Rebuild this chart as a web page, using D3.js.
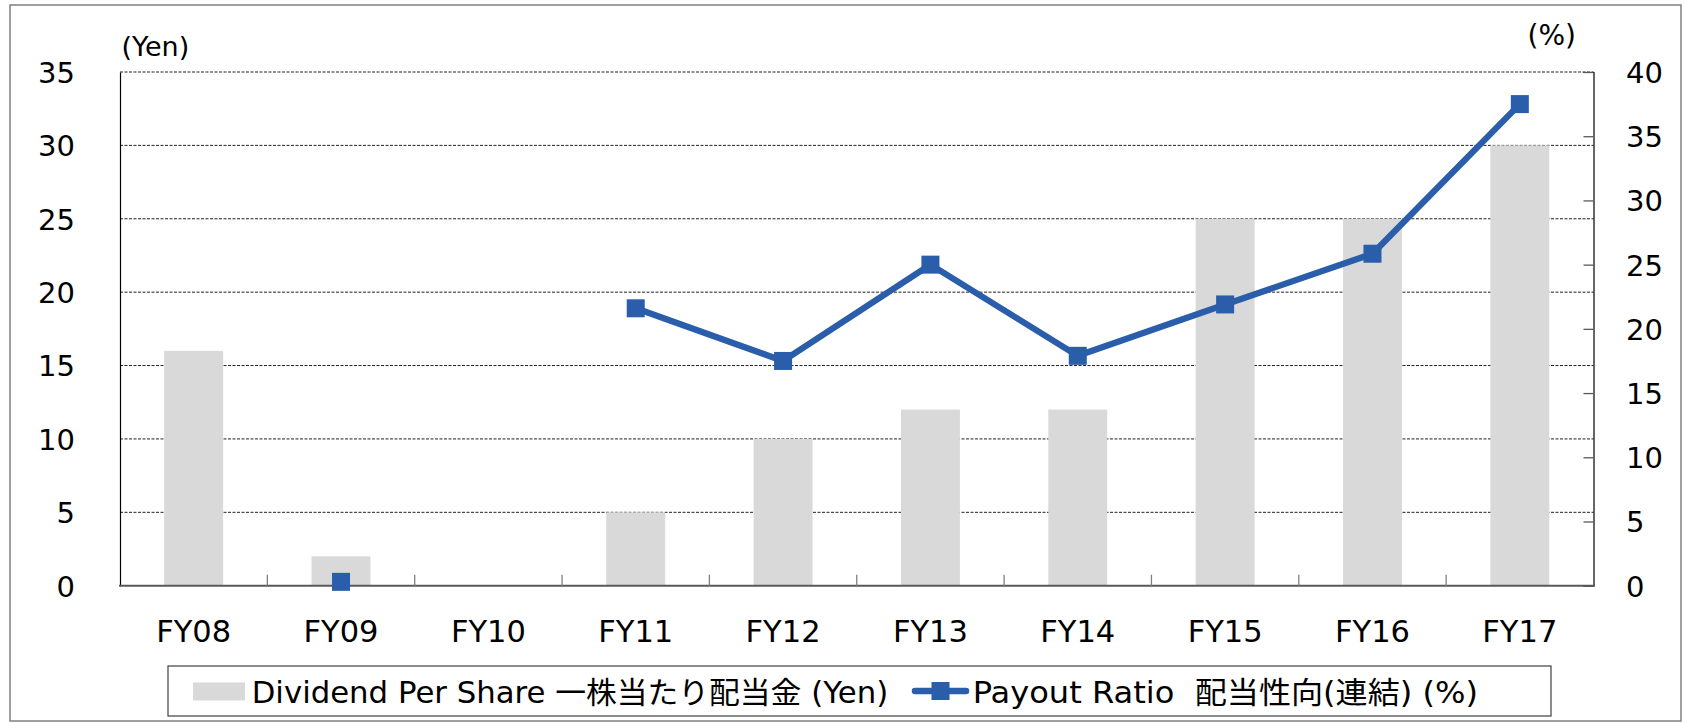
<!DOCTYPE html>
<html>
<head>
<meta charset="utf-8">
<script src="https://cdn.jsdelivr.net/npm/d3@7/dist/d3.min.js"></script>
<style>
    html, body { margin: 0; padding: 0; background: #fff; }
    svg text { font-family: "DejaVu Sans", "Noto Sans CJK JP", sans-serif; fill: #000; }
    .legend-text { white-space: pre; }
</style>
</head>
<body>
<svg id="chart" width="1685" height="723"></svg>
<script>
    "use strict";

    // data
    var categories = ["FY08", "FY09", "FY10", "FY11", "FY12", "FY13", "FY14", "FY15", "FY16", "FY17"];
    var dividend = [16, 2, 0, 5, 10, 12, 12, 25, 25, 30];
    var payout = [null, 0.3, null, 21.6, 17.5, 25.0, 17.9, 21.9, 25.85, 37.5];
    var yenTicks = [0, 5, 10, 15, 20, 25, 30, 35];
    var pctTicks = [0, 5, 10, 15, 20, 25, 30, 35, 40];
    var legendLabels = ["Dividend Per Share 一株当たり配当金 (Yen)", "Payout Ratio  配当性向(連結) (%)"];

    var BAR_COLOR = "#d9d9d9";
    var LINE_COLOR = "#2a5daa";

    var plot = { left: 120, right: 1593.5, top: 72, bottom: 585.7 };

    var svg = d3.select("#chart");

    // outer frame
    svg.append("rect")
        .attr("x", 10).attr("y", 5)
        .attr("width", 1671).attr("height", 716)
        .attr("fill", "#fff")
        .attr("stroke", "#808080")
        .attr("stroke-width", 1.5);

    var x = d3.scaleBand()
        .domain(categories)
        .range([plot.left, plot.right])
        .paddingInner(0.6)
        .paddingOuter(0.3);

    var yL = d3.scaleLinear().domain([0, 35]).range([plot.bottom, plot.top]);
    var yR = d3.scaleLinear().domain([0, 40]).range([plot.bottom, plot.top]);

    var cx = function (c) { return x(c) + x.bandwidth() / 2; };

    // dashed gridlines (left axis)
    svg.append("g").selectAll("line")
        .data(yenTicks.filter(function (t) { return t > 0; }))
        .enter().append("line")
        .attr("x1", plot.left).attr("x2", plot.right)
        .attr("y1", function (d) { return yL(d); })
        .attr("y2", function (d) { return yL(d); })
        .attr("stroke", "#222")
        .attr("stroke-width", 1)
        .attr("stroke-dasharray", "3,1.5");

    // bars
    var barData = categories.map(function (c, i) { return { cat: c, v: dividend[i] }; });
    svg.append("g").selectAll("rect")
        .data(barData.filter(function (d) { return d.v > 0; }))
        .enter().append("rect")
        .attr("x", function (d) { return x(d.cat); })
        .attr("width", x.bandwidth())
        .attr("y", function (d) { return yL(d.v); })
        .attr("height", function (d) { return yL(0) - yL(d.v); })
        .attr("fill", BAR_COLOR);

    // left axis
    var gL = svg.append("g")
        .attr("transform", "translate(" + plot.left + ",0)")
        .call(d3.axisLeft(yL).tickValues(yenTicks).tickSize(0).tickPadding(45));
    gL.select(".domain").attr("stroke", "#000").attr("stroke-width", 1.2);
    gL.selectAll("text").attr("font-size", 29).attr("dy", "0.36em");

    // right axis (ticks pointing inside)
    var gR = svg.append("g")
        .attr("transform", "translate(" + plot.right + ",0)")
        .call(d3.axisRight(yR).tickValues(pctTicks).tickSize(-10).tickPadding(32.5));
    gR.select(".domain").attr("stroke", "#000").attr("stroke-width", 1.2);
    gR.selectAll(".tick line").attr("stroke", "#595959").attr("stroke-width", 1.3);
    gR.selectAll("text").attr("font-size", 29).attr("dy", "0.36em");

    // x axis line and category boundary ticks
    svg.append("line")
        .attr("x1", plot.left - 1).attr("x2", plot.right + 1)
        .attr("y1", plot.bottom).attr("y2", plot.bottom)
        .attr("stroke", "#595959")
        .attr("stroke-width", 2);

    svg.append("g").selectAll("line")
        .data(categories.slice(0, categories.length - 1))
        .enter().append("line")
        .attr("x1", function (c) { return cx(c) + x.step() / 2; })
        .attr("x2", function (c) { return cx(c) + x.step() / 2; })
        .attr("y1", plot.bottom)
        .attr("y2", plot.bottom - 11)
        .attr("stroke", "#808080")
        .attr("stroke-width", 1.3);

    svg.append("g").selectAll("text")
        .data(categories)
        .enter().append("text")
        .attr("x", cx)
        .attr("y", 642.3)
        .attr("text-anchor", "middle")
        .attr("font-size", 30.5)
        .text(function (c) { return c; });

    // unit labels
    svg.append("text").attr("x", 121.5).attr("y", 56).attr("font-size", 27).text("(Yen)");
    svg.append("text").attr("x", 1527.5).attr("y", 45).attr("font-size", 28).text("(%)");

    // payout ratio line
    var lineData = categories.map(function (c, i) { return { cat: c, v: payout[i] }; });
    var line = d3.line()
        .defined(function (d) { return d.v !== null; })
        .x(function (d) { return cx(d.cat); })
        .y(function (d) { return yR(d.v); });

    svg.append("path")
        .datum(lineData)
        .attr("d", line)
        .attr("fill", "none")
        .attr("stroke", LINE_COLOR)
        .attr("stroke-width", 6.3)
        .attr("stroke-linejoin", "round");

    var MARK = 18;
    svg.append("g").selectAll("rect")
        .data(lineData.filter(function (d) { return d.v !== null; }))
        .enter().append("rect")
        .attr("x", function (d) { return cx(d.cat) - MARK / 2; })
        .attr("y", function (d) { return yR(d.v) - MARK / 2; })
        .attr("width", MARK).attr("height", MARK)
        .attr("fill", LINE_COLOR);

    // legend
    var lg = svg.append("g");
    lg.append("rect")
        .attr("x", 168).attr("y", 666)
        .attr("width", 1383).attr("height", 50)
        .attr("fill", "#fff")
        .attr("stroke", "#404040")
        .attr("stroke-width", 1.2);

    lg.append("rect")
        .attr("x", 193).attr("y", 682.5)
        .attr("width", 52).attr("height", 18)
        .attr("fill", BAR_COLOR);

    lg.append("text")
        .attr("class", "legend-text")
        .attr("x", 251.7).attr("y", 702.5)
        .attr("font-size", 30)
        .attr("textLength", 636.6)
        .attr("lengthAdjust", "spacingAndGlyphs")
        .text(legendLabels[0]);

    lg.append("line")
        .attr("x1", 915).attr("x2", 966)
        .attr("y1", 691).attr("y2", 691)
        .attr("stroke", LINE_COLOR)
        .attr("stroke-width", 6.5)
        .attr("stroke-linecap", "round");
    lg.append("rect")
        .attr("x", 931.5).attr("y", 682)
        .attr("width", 18).attr("height", 18)
        .attr("fill", LINE_COLOR);

    lg.append("text")
        .attr("class", "legend-text")
        .attr("x", 972.7).attr("y", 702.5)
        .attr("font-size", 30)
        .attr("textLength", 505.3)
        .attr("lengthAdjust", "spacingAndGlyphs")
        .text(legendLabels[1]);
</script>
</body>
</html>
